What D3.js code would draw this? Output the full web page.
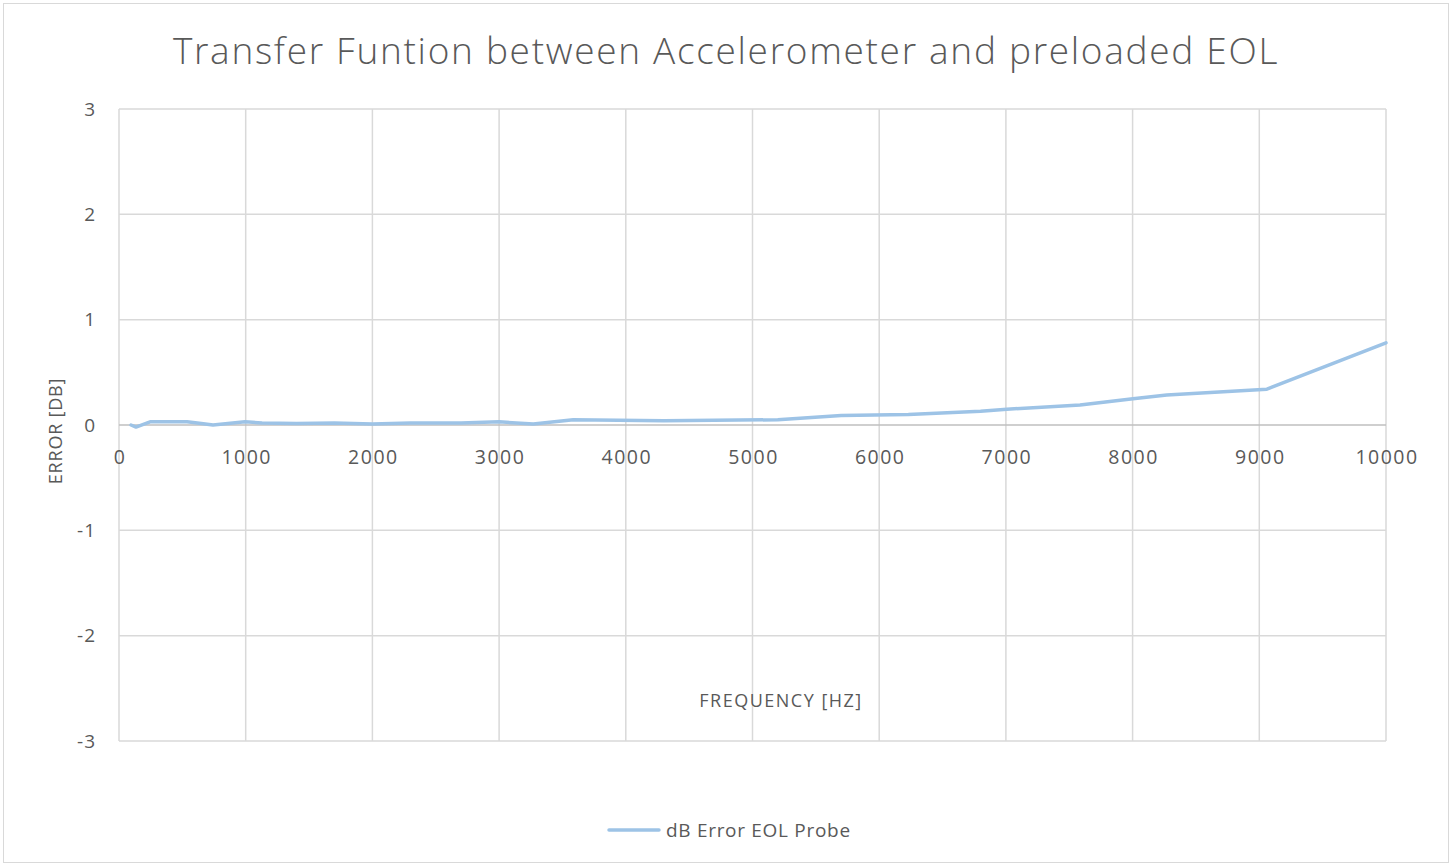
<!DOCTYPE html>
<html><head><meta charset="utf-8">
<script src="https://cdn.jsdelivr.net/npm/d3@7"></script>
<style>body{margin:0;background:#fff;}svg{display:block;}</style>
</head><body>
<svg id="c" width="1452" height="866"></svg>
<script>
const freq = [95, 134, 245, 537, 650, 742, 995, 1129, 1400, 1700, 2000, 2300, 2700, 3000, 3270, 3585, 4300, 5200, 5700, 6230, 6800, 7007, 7585, 8003, 8270, 9060, 10000];
const dbErr = [0.0, -0.02, 0.03, 0.03, 0.015, 0.0, 0.03, 0.02, 0.015, 0.02, 0.01, 0.02, 0.02, 0.03, 0.01, 0.05, 0.04, 0.05, 0.09, 0.1, 0.13, 0.15, 0.19, 0.25, 0.285, 0.34, 0.78];
const xTicks = [0,1000,2000,3000,4000,5000,6000,7000,8000,9000,10000];
const yTicks = [-3,-2,-1,0,1,2,3];
const title = "Transfer Funtion between Accelerometer and preloaded EOL";
const seriesName = "dB Error EOL Probe";

const svg = d3.select("#c");
const font = "'Open Sans', 'Liberation Sans', sans-serif";
svg.append("rect").attr("x",3.5).attr("y",3.5).attr("width",1445).attr("height",859)
  .attr("fill","#fff").attr("stroke","#d9d9d9");

const x = d3.scaleLinear().domain([0,10000]).range([119,1386]);
const y = d3.scaleLinear().domain([-3,3]).range([741,109]);

const g = svg.append("g");
g.selectAll(".vg").data(xTicks).join("line")
  .attr("x1",d=>x(d)).attr("x2",d=>x(d)).attr("y1",y(3)).attr("y2",y(-3))
  .attr("stroke","#d9d9d9").attr("stroke-width",1.5);
g.selectAll(".hg").data(yTicks.filter(d=>d!==0)).join("line")
  .attr("x1",x(0)).attr("x2",x(10000)).attr("y1",d=>y(d)).attr("y2",d=>y(d))
  .attr("stroke","#d9d9d9").attr("stroke-width",1.5);
g.append("line").attr("x1",x(0)).attr("x2",x(10000)).attr("y1",y(0)).attr("y2",y(0))
  .attr("stroke","#bfbfbf").attr("stroke-width",1.5);

// y tick labels
g.selectAll(".yl").data(yTicks).join("text")
  .attr("x",96).attr("y",d=>y(d)).attr("dy","0.35em").attr("text-anchor","end")
  .attr("font-family",font).attr("font-size",19).attr("letter-spacing",1).attr("fill","#595959").text(d=>d);
// x tick labels
g.selectAll(".xl").data(xTicks).join("text")
  .attr("x",d=>x(d)+1).attr("y",y(0)+39).attr("text-anchor","middle")
  .attr("font-family",font).attr("font-size",19.5).attr("letter-spacing",1.5).attr("fill","#595959").text(d=>d);

// line
const line = d3.line().x((d,i)=>x(freq[i])).y(d=>y(d));
g.append("path").datum(dbErr).attr("d",line).attr("fill","none")
  .attr("stroke","#9dc3e6").attr("stroke-width",3.5).attr("stroke-linejoin","round").attr("stroke-linecap","round");

// title
svg.append("text").attr("x",726).attr("y",64).attr("text-anchor","middle")
  .attr("font-family",font).attr("font-weight",300).attr("font-size",37).attr("letter-spacing",1.7).attr("fill","#595959").text(title);
// axis titles
svg.append("text").attr("transform","translate(62,431) rotate(-90)").attr("text-anchor","middle")
  .attr("font-family",font).attr("font-size",18).attr("letter-spacing",0.8).attr("fill","#595959").text("ERROR [DB]");
svg.append("text").attr("x",781).attr("y",707).attr("text-anchor","middle")
  .attr("font-family",font).attr("font-size",18).attr("letter-spacing",1.5).attr("fill","#595959").text("FREQUENCY [HZ]");
// legend
svg.append("line").attr("x1",609).attr("x2",659).attr("y1",830).attr("y2",830)
  .attr("stroke","#9dc3e6").attr("stroke-width",3.5).attr("stroke-linecap","round");
svg.append("text").attr("x",666).attr("y",836.5).attr("font-family",font).attr("font-size",19)
  .attr("letter-spacing",0.7).attr("fill","#595959").text(seriesName);
</script>
</body></html>
